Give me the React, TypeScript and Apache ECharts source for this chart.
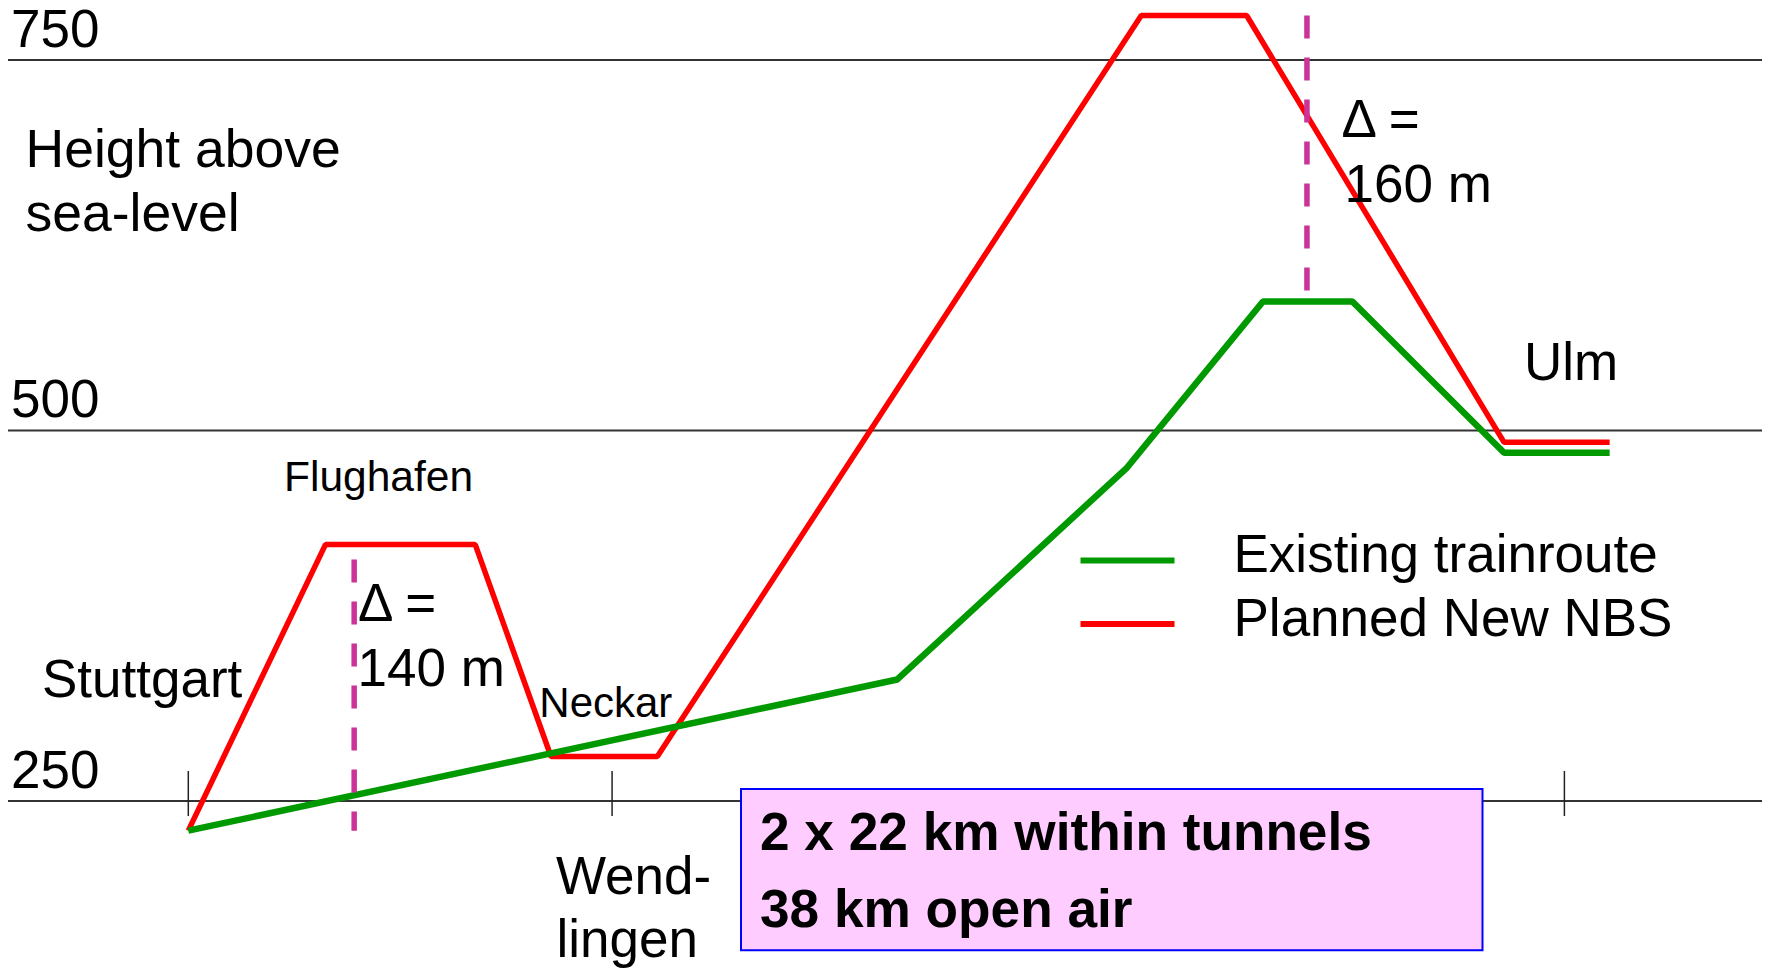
import React, { useEffect, useRef } from "react";
import * as echarts from "echarts";

// ---- data ----
const stationNames = ["Stuttgart", "Wendlingen", "Ulm"];
const stationKm = [0, 26.7, 86.7];

const existingKm = [0, 44.67, 59.15, 67.71, 73.34, 82.9, 89.55];
const existingHeight = [230, 332, 475, 587, 587, 485, 485];

const plannedKm = [0, 8.64, 18.08, 22.85, 29.55, 60.04, 66.68, 82.9, 89.55];
const plannedHeight = [230, 423, 423, 280, 280, 780, 780, 492, 492];

const gridLevels = [250, 500, 750];

const deltaKm = [10.45, 70.48];
const deltaTop = [413, 780];
const deltaBottom = [230, 594];
const deltaValues = ["140 m", "160 m"];

const tunnelNotes = ["2 x 22 km within tunnels", "38 km open air"];

const X_MIN = -11.36;
const X_MAX = 99.15;
const Y_MIN = 150;
const Y_MAX = 790;

const FONT = "'Liberation Sans', Arial, Helvetica, sans-serif";
const GREEN = "#009900";
const RED = "#ff0000";
const PINK = "#cc3399";

function txt(text: string, x: number, y: number, size: number, bold = false) {
  return {
    type: "text",
    x,
    y,
    z: 100,
    silent: true,
    style: {
      text,
      fontSize: size,
      fontFamily: FONT,
      fontWeight: bold ? "bold" : "normal",
      fill: "#000",
      align: "left",
      verticalAlign: "middle",
    },
  };
}

export default function App() {
  const ref = useRef<HTMLDivElement>(null);

  useEffect(() => {
    document.body.style.margin = "0";
    document.body.style.overflow = "hidden";
    if (!ref.current) return;
    const chart = echarts.init(ref.current, null, { renderer: "svg" });

    const gridSeries = gridLevels.map((lvl) => ({
      name: "grid " + lvl,
      type: "line",
      silent: true,
      symbol: "none",
      z: 1,
      data: [
        [X_MIN, lvl],
        [X_MAX, lvl],
      ],
      lineStyle: { color: "#333333", width: 2 },
    }));

    const deltaSeries = deltaKm.map((km, i) => ({
      name: "delta " + i,
      type: "line",
      silent: true,
      symbol: "none",
      z: 4,
      data: [
        [km, deltaTop[i]],
        [km, deltaBottom[i]],
      ],
      lineStyle: { color: PINK, width: 5.5, type: [23, 19] },
    }));

    const option: any = {
      animation: false,
      backgroundColor: "#ffffff",
      grid: { left: 8, right: 5, top: 0.7, bottom: 18.8, outerBoundsMode: "none", containLabel: false },
      xAxis: { type: "value", min: X_MIN, max: X_MAX, show: false },
      yAxis: {
        type: "value",
        min: Y_MIN,
        max: Y_MAX,
        axisLine: { show: false },
        axisTick: { show: false },
        splitLine: { show: false },
        axisLabel: {
          customValues: gridLevels,
          inside: true,
          margin: 3,
          fontSize: 53,
          fontFamily: FONT,
          color: "#000",
          align: "left",
          verticalAlign: "bottom",
          lineHeight: 63,
        },
      },
      legend: {
        show: true,
        orient: "vertical",
        left: 1080.5,
        top: 527,
        padding: 0,
        itemGap: -1.5,
        itemWidth: 94,
        itemHeight: 6,
        icon: "rect",
        selectedMode: false,
        data: ["Existing trainroute", "Planned New NBS"],
        formatter: "{t|{name}}",
        textStyle: {
          fontSize: 53,
          fontFamily: FONT,
          color: "#000",
          lineHeight: 49,
          padding: [0, 0, 14, 54],
          rich: {
            t: { fontSize: 53, fontFamily: FONT, color: "#000", lineHeight: 49 },
          },
        },
      },
      series: [
        ...gridSeries,
        {
          name: "Planned New NBS",
          type: "line",
          symbol: "none",
          z: 2,
          color: RED,
          itemStyle: { color: RED },
          lineStyle: { color: RED, width: 5.5 },
          data: plannedKm.map((k, i) => [k, plannedHeight[i]]),
        },
        {
          name: "Existing trainroute",
          type: "line",
          symbol: "none",
          z: 3,
          color: GREEN,
          itemStyle: { color: GREEN },
          lineStyle: { color: GREEN, width: 6.5 },
          data: existingKm.map((k, i) => [k, existingHeight[i]]),
        },
        ...deltaSeries,
        {
          name: "stations",
          type: "custom",
          silent: true,
          z: 5,
          data: stationKm.map((k) => [k, gridLevels[0]]),
          renderItem: (params: any, api: any) => {
            const p = api.coord([api.value(0), api.value(1)]);
            return {
              type: "line",
              shape: { x1: p[0], y1: p[1] - 30, x2: p[0], y2: p[1] + 15 },
              style: { stroke: "#222222", lineWidth: 1.5 },
            };
          },
        },
      ],
      graphic: [
        txt("Height above", 25.5, 148.7, 53.5),
        txt("sea-level", 25.5, 212, 53.5),
        txt(stationNames[0], 42, 678.7, 53),
        txt("Flughafen", 284, 476, 42.5),
        txt("Δ =", 358, 602.7, 53),
        txt(deltaValues[0], 357.5, 667, 53),
        txt("Neckar", 539.3, 702, 42),
        txt("Wend-", 556, 875.3, 53),
        txt("lingen", 556.5, 938.5, 53),
        txt("Δ =", 1341.6, 118.7, 53),
        txt(deltaValues[1], 1344.5, 183.7, 53),
        txt(stationNames[2], 1524, 361, 53),
        {
          type: "rect",
          z: 90,
          silent: true,
          shape: { x: 741, y: 789, width: 741.5, height: 161.3 },
          style: { fill: "#ffccff", stroke: "#0000ff", lineWidth: 2 },
        },
        txt(tunnelNotes[0], 760, 831.5, 53.2, true),
        txt(tunnelNotes[1], 760, 908.3, 53.2, true),
      ],
    };

    chart.setOption(option);
    return () => chart.dispose();
  }, []);

  return (
    <div
      ref={ref}
      style={{ position: "fixed", left: 0, top: 0, width: 1767, height: 968, background: "#fff" }}
    />
  );
}
